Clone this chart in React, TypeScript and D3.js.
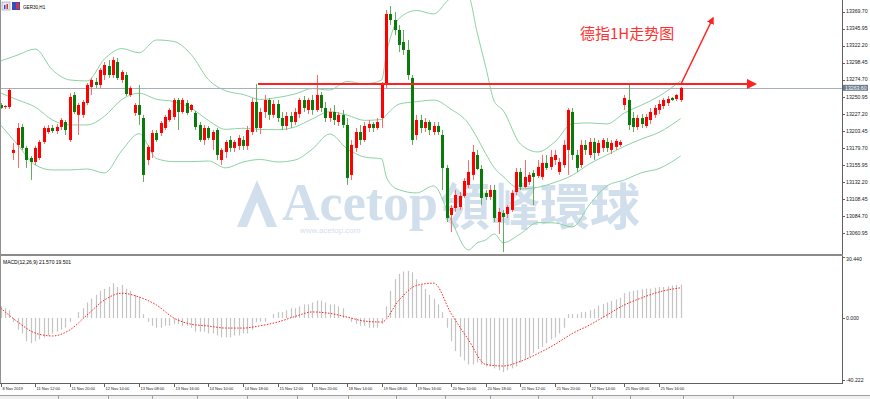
import React from 'react';
import * as d3 from 'd3';

const W = 870;
const H = 399;
const AXIS_X = 842;
const MAIN_BOTTOM = 255;
const MACD_TOP = 257;
const MACD_BOTTOM = 383;

const priceTicks = [13369.70, 13345.95, 13322.20, 13298.45, 13274.70, 13250.95, 13227.20, 13203.45, 13179.70, 13155.95, 13132.20, 13108.45, 13084.70, 13060.95];
const xLabels = ['8 Nov 2019', '11 Nov 12:00', '11 Nov 20:00', '12 Nov 14:00', '13 Nov 08:00', '13 Nov 16:00', '14 Nov 10:00', '14 Nov 18:00', '15 Nov 12:00', '15 Nov 20:00', '18 Nov 14:00', '19 Nov 08:00', '19 Nov 16:00', '20 Nov 10:00', '20 Nov 18:00', '21 Nov 12:00', '21 Nov 20:00', '22 Nov 14:00', '25 Nov 08:00', '25 Nov 16:00'];

const opens = [
  13239.7, 13236.9, 13236.9, 13172.9, 13184.0, 13209.1, 13179.9, 13165.9,
  13160.3, 13165.9, 13188.2, 13202.1, 13207.7, 13203.5, 13209.1, 13216.0,
  13191.0, 13253.7, 13226.0, 13226.0, 13242.5, 13264.9, 13271.8, 13267.6,
  13281.5, 13294.0, 13281.5, 13299.6, 13274.6, 13281.5, 13253.7, 13228.6,
  13239.7, 13221.6, 13163.1, 13174.3, 13200.7, 13200.7, 13207.7, 13218.8,
  13223.0, 13246.7, 13230.0, 13242.5, 13232.8, 13228.6, 13211.9, 13191.0,
  13207.7, 13191.0, 13204.9, 13163.1, 13174.3, 13191.0, 13179.9, 13182.7,
  13191.0, 13182.7, 13202.1, 13243.9, 13207.7, 13230.0, 13246.7, 13226.0,
  13241.1, 13221.6, 13210.5, 13224.4, 13216.0, 13227.2, 13246.7, 13232.8,
  13246.7, 13232.8, 13253.7, 13235.6, 13221.6, 13230.0, 13216.0, 13226.0,
  13211.9, 13142.3, 13179.9, 13202.1, 13191.0, 13207.7, 13213.2, 13207.7,
  13221.6, 13269.0, 13366.5, 13358.1, 13344.2, 13327.5, 13316.4, 13277.4,
  13197.9, 13218.8, 13207.7, 13216.0, 13202.1, 13210.5, 13197.9, 13152.0,
  13086.5, 13096.2, 13097.6, 13113.0, 13128.3, 13142.3, 13170.1, 13150.6,
  13117.2, 13111.6, 13121.3, 13076.7, 13089.3, 13087.9, 13093.5, 13118.5,
  13146.4, 13125.5, 13132.5, 13145.0, 13140.9, 13139.5, 13159.0, 13153.4,
  13163.1, 13146.4, 13156.1, 13177.1, 13230.0, 13170.1, 13156.1, 13184.0,
  13170.1, 13188.2, 13172.9, 13179.9, 13188.2, 13177.1, 13181.3, 13184.0,
  13239.7, 13246.7, 13221.6, 13209.1, 13221.6, 13210.5, 13218.8, 13226.0,
  13232.8, 13238.3, 13242.5, 13249.5, 13248.1, 13246.7,
];
const highs = [
  13242.5, 13239.7, 13263.5, 13186.8, 13214.6, 13213.2, 13182.7, 13168.7,
  13182.7, 13191.0, 13210.5, 13211.9, 13211.9, 13213.2, 13221.6, 13218.8,
  13256.4, 13257.8, 13242.5, 13246.7, 13270.4, 13277.4, 13277.4, 13291.3,
  13299.6, 13302.4, 13306.6, 13305.2, 13288.5, 13285.7, 13266.2, 13242.5,
  13267.6, 13226.0, 13184.0, 13204.9, 13204.9, 13217.4, 13226.0, 13235.6,
  13249.5, 13249.5, 13249.5, 13246.7, 13241.1, 13231.4, 13216.0, 13211.9,
  13210.5, 13204.9, 13207.7, 13179.9, 13191.0, 13196.5, 13191.0, 13197.9,
  13196.5, 13210.5, 13249.5, 13269.0, 13235.6, 13253.7, 13249.5, 13246.7,
  13246.7, 13230.0, 13230.0, 13230.0, 13235.6, 13249.5, 13252.3, 13249.5,
  13253.7, 13281.5, 13257.8, 13243.9, 13235.6, 13239.7, 13230.0, 13232.8,
  13221.6, 13191.0, 13207.7, 13211.9, 13216.0, 13218.8, 13216.0, 13221.6,
  13271.8, 13372.1, 13377.6, 13369.3, 13351.2, 13344.2, 13330.3, 13281.5,
  13226.0, 13226.0, 13221.6, 13218.8, 13216.0, 13216.0, 13204.9, 13156.1,
  13100.4, 13121.3, 13118.5, 13138.1, 13163.1, 13184.0, 13177.1, 13156.1,
  13121.3, 13128.3, 13128.3, 13096.2, 13093.5, 13100.4, 13121.3, 13152.0,
  13152.0, 13163.1, 13146.4, 13149.2, 13163.1, 13170.1, 13170.1, 13177.1,
  13177.1, 13165.9, 13191.0, 13235.6, 13235.6, 13177.1, 13191.0, 13191.0,
  13193.8, 13193.8, 13191.0, 13193.8, 13193.8, 13191.0, 13192.4, 13191.0,
  13253.7, 13269.0, 13230.0, 13226.0, 13227.2, 13227.2, 13235.6, 13239.7,
  13246.7, 13249.5, 13252.3, 13250.9, 13255.1, 13265.0,
];
const lows = [
  13234.2, 13234.2, 13234.2, 13163.1, 13152.0, 13177.1, 13152.0, 13135.3,
  13156.1, 13163.1, 13185.4, 13199.3, 13200.7, 13199.3, 13204.9, 13197.9,
  13188.2, 13227.2, 13197.9, 13221.6, 13239.7, 13253.7, 13263.5, 13263.5,
  13274.6, 13277.4, 13277.4, 13274.6, 13270.4, 13252.3, 13250.9, 13224.4,
  13211.9, 13132.5, 13156.1, 13165.9, 13188.2, 13196.5, 13204.9, 13216.0,
  13218.8, 13204.9, 13227.2, 13226.0, 13230.0, 13204.9, 13188.2, 13184.0,
  13191.0, 13177.1, 13163.1, 13156.1, 13165.9, 13174.3, 13174.3, 13177.1,
  13177.1, 13177.1, 13197.9, 13202.1, 13199.3, 13221.6, 13218.8, 13221.6,
  13216.0, 13204.9, 13204.9, 13207.7, 13211.9, 13221.6, 13230.0, 13227.2,
  13226.0, 13230.0, 13230.0, 13216.0, 13216.0, 13211.9, 13210.5, 13207.7,
  13128.3, 13135.3, 13174.3, 13184.0, 13188.2, 13202.1, 13202.1, 13204.9,
  13207.7, 13263.5, 13351.2, 13337.2, 13313.6, 13309.4, 13274.6, 13184.0,
  13191.0, 13200.7, 13202.1, 13197.9, 13197.9, 13197.9, 13121.3, 13076.7,
  13062.8, 13090.7, 13093.5, 13110.2, 13124.1, 13135.3, 13149.2, 13100.4,
  13107.4, 13107.4, 13076.7, 13060.0, 13035.0, 13082.3, 13090.7, 13114.4,
  13121.3, 13124.1, 13128.3, 13100.4, 13138.1, 13135.3, 13149.2, 13149.2,
  13156.1, 13142.3, 13152.0, 13142.3, 13163.1, 13146.4, 13152.0, 13170.1,
  13165.9, 13163.1, 13168.7, 13174.3, 13174.3, 13171.5, 13177.1, 13181.3,
  13232.8, 13204.9, 13202.1, 13204.9, 13207.7, 13207.7, 13213.2, 13221.6,
  13227.2, 13234.2, 13238.3, 13245.3, 13245.3, 13243.9,
];
const closes = [
  13235.6, 13238.3, 13260.6, 13177.1, 13207.7, 13179.9, 13163.1, 13160.3,
  13179.9, 13188.2, 13207.7, 13207.7, 13203.5, 13209.1, 13218.8, 13204.9,
  13250.9, 13230.0, 13239.7, 13243.9, 13267.6, 13274.6, 13267.6, 13288.5,
  13295.4, 13281.5, 13302.4, 13277.4, 13285.7, 13255.0, 13263.5, 13239.7,
  13226.0, 13142.3, 13181.3, 13200.7, 13191.0, 13214.6, 13223.0, 13232.8,
  13246.7, 13230.0, 13246.7, 13228.6, 13239.7, 13209.1, 13191.0, 13207.7,
  13193.8, 13202.1, 13170.1, 13177.1, 13188.2, 13179.9, 13188.2, 13193.8,
  13182.7, 13204.9, 13243.9, 13207.7, 13230.0, 13246.7, 13226.0, 13241.1,
  13221.6, 13210.5, 13224.4, 13216.0, 13230.0, 13246.7, 13235.6, 13246.7,
  13232.8, 13253.7, 13235.6, 13221.6, 13230.0, 13218.8, 13226.0, 13211.9,
  13138.1, 13184.0, 13202.1, 13191.0, 13210.5, 13213.2, 13207.7, 13216.0,
  13267.6, 13366.5, 13358.1, 13344.2, 13323.3, 13316.4, 13281.5, 13191.0,
  13218.8, 13207.7, 13216.0, 13204.9, 13210.5, 13202.1, 13152.0, 13082.3,
  13096.2, 13114.4, 13113.0, 13133.9, 13146.4, 13174.3, 13150.6, 13110.2,
  13111.6, 13121.3, 13082.3, 13090.7, 13083.7, 13097.6, 13117.2, 13146.4,
  13125.5, 13139.5, 13142.3, 13139.5, 13153.4, 13159.0, 13152.0, 13167.3,
  13170.1, 13160.3, 13184.0, 13232.8, 13170.1, 13152.0, 13184.0, 13177.1,
  13188.2, 13172.9, 13186.8, 13191.0, 13179.9, 13186.8, 13189.6, 13188.2,
  13249.5, 13211.9, 13209.1, 13221.6, 13213.2, 13223.0, 13230.0, 13235.6,
  13241.1, 13246.7, 13248.1, 13246.7, 13253.7, 13263.6,
];

// Bollinger bands (20,2) read at sampled bars
const bandIdx = [0, 4, 8, 12, 16, 20, 24, 28, 32, 36, 40, 44, 48, 52, 56, 60, 64, 68, 72, 76, 80, 84, 88, 89, 90, 92, 96, 100, 104, 108, 110, 112, 114, 116, 120, 124, 128, 132, 136, 140, 144, 148, 152, 157];
const bandUpper = [13301.0, 13309.4, 13317.7, 13288.5, 13274.6, 13273.2, 13303.8, 13318.3, 13312.5, 13330.3, 13328.2, 13310.1, 13275.1, 13259.5, 13254.4, 13247.4, 13250.2, 13255.1, 13262.7, 13260.6, 13272.5, 13269.0, 13274.6, 13309.4, 13333.6, 13360.2, 13371.4, 13366.5, 13388.1, 13390.2, 13341.4, 13292.7, 13244.6, 13232.4, 13185.4, 13174.3, 13188.5, 13213.8, 13214.7, 13213.3, 13228.6, 13239.7, 13252.0, 13273.2];
const bandMid = [13256.5, 13246.7, 13236.9, 13218.8, 13211.9, 13211.9, 13224.1, 13247.3, 13256.1, 13247.7, 13244.5, 13235.4, 13218.1, 13205.8, 13207.3, 13205.6, 13205.3, 13209.2, 13220.4, 13230.3, 13225.7, 13218.3, 13219.5, 13225.5, 13231.6, 13241.0, 13244.3, 13246.6, 13233.8, 13214.0, 13194.2, 13171.9, 13152.1, 13140.2, 13122.9, 13125.0, 13132.0, 13141.8, 13158.0, 13170.1, 13182.1, 13192.4, 13201.6, 13220.8];
const bandLower = [13211.9, 13184.0, 13156.2, 13149.2, 13149.2, 13150.6, 13145.0, 13176.2, 13199.7, 13165.2, 13160.8, 13160.8, 13161.7, 13152.1, 13160.3, 13163.8, 13160.3, 13163.1, 13178.4, 13199.3, 13178.9, 13167.3, 13164.5, 13140.8, 13129.7, 13121.7, 13117.2, 13126.9, 13079.5, 13037.7, 13047.5, 13051.7, 13060.0, 13047.9, 13060.2, 13075.9, 13075.4, 13069.8, 13101.3, 13126.9, 13135.3, 13145.4, 13151.1, 13168.7];

const macdHist = [
  7.5, 6.3, 5, -2.5, -7.5, -10, -15, -16.3,
  -15, -13.8, -12.5, -11.3, -10, -8.8, -7.5, -6.3,
  -2.5, 0, 3.8, 6.3, 10, 12.5, 15, 17.5,
  18.8, 20, 22.5, 20, 21.3, 18.8, 17.5, 15,
  13.8, 2.5, -2.5, -5, -6.3, -6.3, -5, -5,
  -3.8, -3.8, -5, -5, -6.3, -8.8, -8.8, -8.8,
  -10, -10, -11.3, -12.5, -12.5, -12.5, -11.3, -11.3,
  -10, -10, -7.5, -2.5, -2.5, -2.5, 0, 2.5,
  3.8, 3.8, 5, 6.3, 6.3, 7.5, 8.8, 8.8,
  10, 11.3, 11.3, 10, 8.8, 8.8, 7.5, 6.3,
  0, -2.5, -3.8, -5, -5, -6.3, -6.3, -6.3,
  -3.8, 7.5, 17.5, 25, 28.5, 30, 30.44, 29.5,
  25, 21.3, 18.8, 15, 12.5, 8.8, 3.8, -6.3,
  -15, -21.3, -25, -27.5, -30, -30, -28.8, -30,
  -31.3, -31.3, -32.5, -33.8, -35, -33.8, -32.5, -31.3,
  -28.8, -26.3, -25, -22.5, -20, -18.8, -16.3, -13.8,
  -12.5, -10, -6.3, 2.5, 2.5, 2.5, 3.8, 3.8,
  5, 6, 8, 9, 10, 11, 12, 13,
  16, 17, 17.5, 18, 18.5, 19, 19, 19.5,
  20, 20, 20.5, 21, 21.3, 21.57,
];
const signalIdx = [0, 4, 8, 12, 16, 20, 24, 28, 32, 36, 40, 44, 48, 52, 56, 60, 64, 68, 72, 76, 80, 84, 88, 92, 96, 100, 104, 108, 112, 116, 120, 124, 128, 132, 136, 140, 144, 148, 152, 157];
const signalVals = [6.5, -2.6, -9.7, -11.6, -7.7, 2, 11.6, 16, 13.5, 8.4, 0, -4, -5.2, -6.5, -6.5, -5, -2.6, 1, 3.9, 3, 0.6, -2, -2.6, 11.6, 21, 22.5, 3, -14, -30, -31, -28, -23, -17, -10, -4.5, 2, 8.4, 13, 16.8, 19.5];

const macdTicks = [
  { v: 0, label: '0.000' },
  { v: -40.222, label: '-40.222' },
];
const macdMaxLabel = '30.440';

const lastPrice = 13263.6;
const resistance = 13269;

// bottom tab-strip separators
const tabSeps = [58, 108, 152, 197, 247, 297, 348, 396, 445, 490, 538, 592, 630, 683, 733];

export default function App() {
  const x = d3.scaleLinear().domain([0, 152]).range([0.5, 659]);
  const y = d3.scaleLinear().domain([13369.7, 13060.95]).range([11.7, 233.3]);
  const ym = d3.scaleLinear().domain([0, -40.222]).range([318, 380.3]);

  const candles = closes.map((c, i) => ({ i, o: opens[i], h: highs[i], l: lows[i], c }));

  const bandLine = (vals: number[]) =>
    d3.line<number>().x((_, k) => x(bandIdx[k])).y((v) => y(v)).curve(d3.curveMonotoneX)(vals) || '';
  const sigLine = d3.line<number>().x((_, k) => x(signalIdx[k])).y((v) => ym(v)).curve(d3.curveMonotoneX)(signalVals) || '';

  const font = 'Liberation Sans, Arial, sans-serif';
  const bandColor = '#8bd3a3';
  const wm = '#b4cbe2';

  return (
    <svg width={W} height={H} style={{ position: 'absolute', left: 0, top: 0, background: '#fff' }} xmlns="http://www.w3.org/2000/svg">
      <defs>
        <clipPath id="mainClip"><rect x={0} y={0} width={AXIS_X} height={MAIN_BOTTOM - 1} /></clipPath>
        <clipPath id="macdClip"><rect x={0} y={MACD_TOP} width={AXIS_X} height={MACD_BOTTOM - MACD_TOP} /></clipPath>
        <marker id="arr" viewBox="0 0 10 10" refX="8" refY="5" markerWidth="5" markerHeight="5" orient="auto">
          <path d="M0,0 L10,5 L0,10 z" fill="#ff2020" />
        </marker>
      </defs>
      <rect x={0} y={0} width={W} height={H} fill="#fff" />

      {/* watermark */}
      <g opacity={0.6}>
        <path d="M237,227 L257,180 L277,227 L267,227 L257,202 L247,227 Z" fill={wm} />
        <text x={282} y={220} fontFamily="Liberation Serif, serif" fontWeight="bold" fontSize={52} fill={wm}>Acetop</text>
        <text x={440} y={225} fontFamily="Noto Sans CJK TC" fontWeight="bold" fontSize={50} fill={wm}>領峰環球</text>
        <text x={300} y={233} fontFamily={font} fontSize={8} fill={wm}>www.acetop.com</text>
      </g>

      <g clipPath="url(#mainClip)">
        <path d={bandLine(bandUpper)} fill="none" stroke={bandColor} strokeWidth={1} />
        <path d={bandLine(bandMid)} fill="none" stroke={bandColor} strokeWidth={1} />
        <path d={bandLine(bandLower)} fill="none" stroke={bandColor} strokeWidth={1} />
        <line x1={0} x2={AXIS_X} y1={Math.round(y(lastPrice)) + 0.5} y2={Math.round(y(lastPrice)) + 0.5} stroke="#a8b0b8" strokeWidth={1} />
        {candles.map((d) => {
          const cx = Math.round(x(d.i)) + 0.5;
          const up = d.c >= d.o;
          const top = y(Math.max(d.o, d.c));
          const bot = y(Math.min(d.o, d.c));
          return (
            <g key={d.i}>
              <line x1={cx} x2={cx} y1={y(d.h)} y2={y(d.l)} stroke={up ? '#ff6a6a' : '#5fae5f'} strokeWidth={1} />
              <rect x={cx - 1.5} y={top} width={3} height={Math.max(1, bot - top)} fill={up ? '#ff0000' : '#0a7a0a'} />
            </g>
          );
        })}
        <line x1={258} x2={755} y1={y(resistance)} y2={y(resistance)} stroke="#ff2020" strokeWidth={2} markerEnd="url(#arr)" />
        <line x1={681} x2={713} y1={y(resistance)} y2={18} stroke="#ff2020" strokeWidth={1.5} markerEnd="url(#arr)" />
      </g>

      <text x={580} y={39} fontFamily="Noto Sans CJK SC" fontSize={15} fill="#ff3030">德指1H走势图</text>

      {/* header */}
      <rect x={2} y={2} width={8} height={8} fill="#e8e8f0" stroke="#8080a0" strokeWidth={0.5} />
      <rect x={4} y={5} width={1.5} height={4} fill="#3050c0" />
      <rect x={6.5} y={4} width={1.5} height={5} fill="#e03030" />
      <rect x={12} y={2} width={8} height={8} fill="#3050c0" />
      <rect x={16} y={3} width={3} height={6} fill="#e03030" />
      <text x={23} y={9} fontFamily={font} fontSize={4.6} fill="#000">GER30,H1</text>

      {/* pane borders */}
      <line x1={AXIS_X + 0.5} x2={AXIS_X + 0.5} y1={0} y2={MACD_BOTTOM} stroke="#606060" />
      <rect x={0} y={MAIN_BOTTOM - 1} width={AXIS_X + 1} height={2} fill="#8a8a8a" />
      <line x1={0} x2={AXIS_X + 1} y1={MACD_BOTTOM + 0.5} y2={MACD_BOTTOM + 0.5} stroke="#606060" />
      <line x1={0.5} x2={0.5} y1={0} y2={MACD_BOTTOM} stroke="#909090" />

      {/* price axis */}
      {priceTicks.map((p) => (
        <g key={p}>
          <line x1={AXIS_X} x2={AXIS_X + 3} y1={Math.round(y(p)) + 0.5} y2={Math.round(y(p)) + 0.5} stroke="#606060" />
          <text x={AXIS_X + 4} y={y(p) + 1.6} fontFamily={font} fontSize={5.2} fill="#202020">{p.toFixed(2)}</text>
        </g>
      ))}
      <rect x={AXIS_X + 1} y={y(lastPrice) - 3} width={25} height={6} fill="#6c7c90" />
      <text x={AXIS_X + 3} y={y(lastPrice) + 1.8} fontFamily={font} fontSize={5.2} fill="#fff">{lastPrice.toFixed(2)}</text>

      {/* MACD */}
      <g clipPath="url(#macdClip)">
        {macdHist.map((v, i) => {
          const cx = Math.round(x(i)) + 0.5;
          return <line key={i} x1={cx} x2={cx} y1={ym(0)} y2={ym(v)} stroke="#c4c4c4" strokeWidth={1.2} />;
        })}
        <path d={sigLine} fill="none" stroke="#ff2020" strokeWidth={1} strokeDasharray="1.5,1.5" />
      </g>
      <text x={3} y={264} fontFamily={font} fontSize={5} fill="#000">MACD(12,26,9) 21.570 19.501</text>
      <line x1={AXIS_X} x2={AXIS_X + 3} y1={257.5} y2={257.5} stroke="#606060" />
      <text x={AXIS_X + 4} y={260.5} fontFamily={font} fontSize={5.2} fill="#202020">{macdMaxLabel}</text>
      {macdTicks.map((t) => (
        <g key={t.label}>
          <line x1={AXIS_X} x2={AXIS_X + 3} y1={Math.round(ym(t.v)) + 0.5} y2={Math.round(ym(t.v)) + 0.5} stroke="#606060" />
          <text x={AXIS_X + 4} y={ym(t.v) + 1.6} fontFamily={font} fontSize={5.2} fill="#202020">{t.label}</text>
        </g>
      ))}

      {/* time axis */}
      {xLabels.map((s, k) => {
        const xx = Math.round(x(k * 8)) + 0.5;
        return (
          <g key={s}>
            <line x1={xx} x2={xx} y1={MACD_BOTTOM} y2={MACD_BOTTOM + 4} stroke="#606060" />
            <text x={xx + 1} y={390} fontFamily={font} fontSize={4} fill="#202020">{s}</text>
          </g>
        );
      })}
      <rect x={0} y={395} width={W} height={4} fill="#f0f0f0" />
      <line x1={0} x2={W} y1={395.5} y2={395.5} stroke="#a0a0a0" />
      {tabSeps.map((sx) => (
        <line key={sx} x1={sx + 0.5} x2={sx + 0.5} y1={395} y2={399} stroke="#a0a0a0" />
      ))}
    </svg>
  );
}
